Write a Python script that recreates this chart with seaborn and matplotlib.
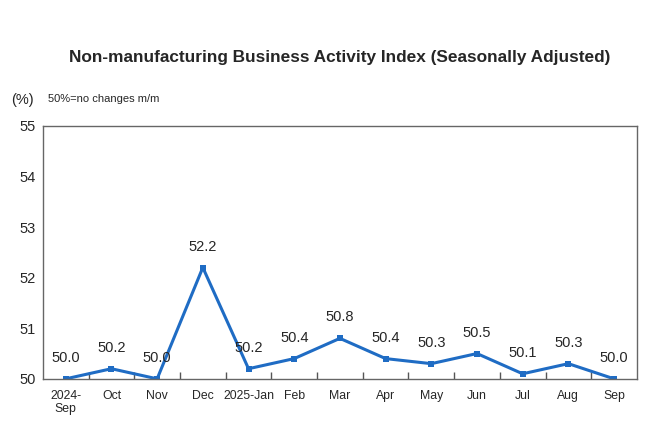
import numpy as np
import pandas as pd
import matplotlib
matplotlib.use('Agg')
import matplotlib.pyplot as plt
import seaborn as sns

months = ['2024-\nSep', 'Oct', 'Nov', 'Dec', '2025-Jan', 'Feb', 'Mar',
          'Apr', 'May', 'Jun', 'Jul', 'Aug', 'Sep']
index_values = [50.0, 50.2, 50.0, 52.2, 50.2, 50.4, 50.8,
                50.4, 50.3, 50.5, 50.1, 50.3, 50.0]
y_ticks = [50, 51, 52, 53, 54, 55]

sns.set_style('white')
plt.rcParams['font.family'] = ['Liberation Sans', 'DejaVu Sans']

LINE_COLOR = '#1f6cc4'

df = pd.DataFrame({'pos': np.arange(len(months)), 'value': index_values})

fig = plt.figure(figsize=(6.6, 4.4), dpi=100)
ax = fig.add_axes([0.065, 0.139, 0.9, 0.575])

sns.lineplot(data=df, x='pos', y='value', ax=ax, color=LINE_COLOR,
             linewidth=2.2, marker='s', markersize=5, markeredgewidth=0)

for x, v in zip(df['pos'], df['value']):
    ax.annotate(f'{v:.1f}', (x, v), xytext=(0, 10), textcoords='offset points',
                ha='center', va='bottom', fontsize=10.5)

ax.set_xlim(-0.5, len(months) - 0.5)
ax.set_ylim(50, 55)
ax.set_yticks(y_ticks)
ax.set_yticklabels([str(t) for t in y_ticks], fontsize=10.5)
ax.set_xticks(df['pos'])
ax.set_xticklabels(months, fontsize=8.8, va='top', linespacing=1.15)
ax.tick_params(axis='x', length=0, pad=8)
ax.tick_params(axis='y', length=0, pad=5)
ax.set_xlabel('')
ax.set_ylabel('')

# small boundary ticks between months
ax.set_xticks(np.arange(0.5, len(months) - 0.5, 1), minor=True)
ax.tick_params(axis='x', which='minor', direction='in', length=5,
               color='#555555', width=1, bottom=True)

for s in ax.spines.values():
    s.set_color('#666666')
    s.set_linewidth(1)

fig.text(0.515, 0.87, 'Non-manufacturing Business Activity Index (Seasonally Adjusted)',
         ha='center', va='center', fontsize=12.4, fontweight='bold')
fig.text(0.017, 0.773, '(%)', ha='left', va='center', fontsize=10.5)
fig.text(0.073, 0.775, '50%=no changes m/m', ha='left', va='center', fontsize=8)

fig.savefig('out.png', dpi=100)
